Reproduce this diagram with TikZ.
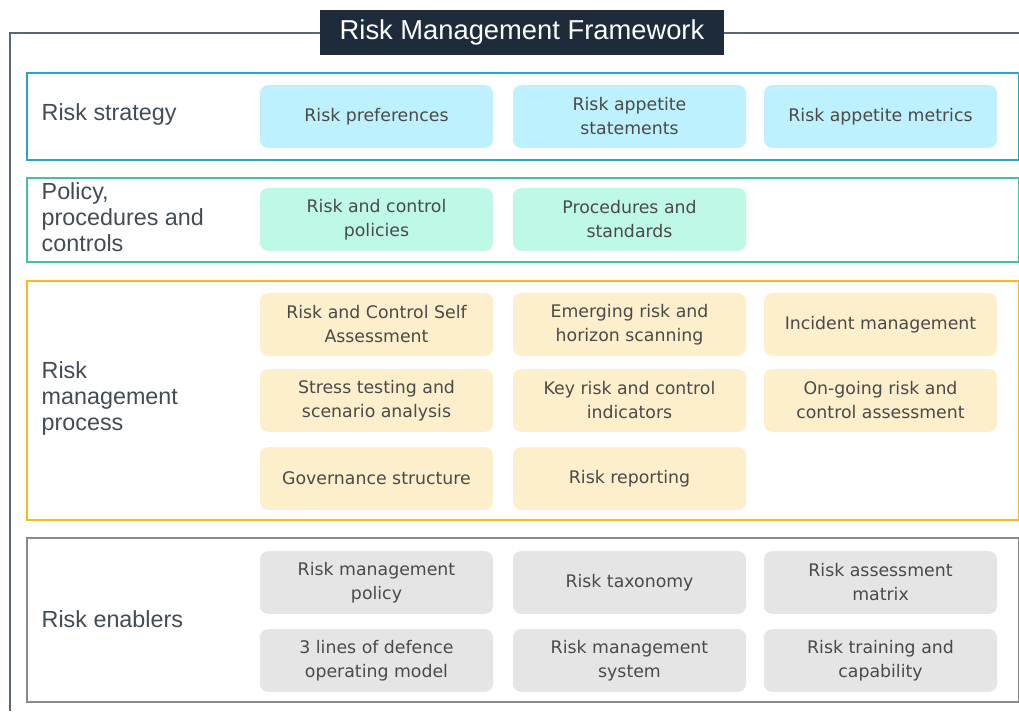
\documentclass[tikz,border=0pt]{standalone}
\usepackage{fontspec}
\setmainfont{Liberation Sans}
\newfontfamily\boxfont{DejaVu Sans}
\definecolor{navy}{HTML}{1E2B3A}
\definecolor{framegray}{HTML}{5C6670}
\definecolor{stratline}{HTML}{2FA4C0}
\definecolor{polline}{HTML}{3CC49C}
\definecolor{procline}{HTML}{F7B928}
\definecolor{enabline}{HTML}{8A8A8A}
\definecolor{stratfill}{HTML}{BDF1FD}
\definecolor{polfill}{HTML}{BEF8E6}
\definecolor{procfill}{HTML}{FDEFCB}
\definecolor{enabfill}{HTML}{E5E5E5}
\definecolor{txtgray}{HTML}{4A4A4A}
\definecolor{lblgray}{HTML}{434B53}
\begin{document}
\begin{tikzpicture}[x=0.75pt,y=-0.75pt,
    band/.style={draw, line width=1.5pt, minimum width=744pt, anchor=north west, inner sep=0pt},
    item/.style={rounded corners=6pt, minimum width=174.75pt, minimum height=47pt, align=center, text=txtgray, font=\boxfont\fontsize{13}{18}\selectfont},
    lbl/.style={anchor=west, align=left, text=lblgray, font=\fontsize{17.5}{19.5}\selectfont}]
  \useasboundingbox (0,0) rectangle (1019,711);
  % outer frame and title
  \draw[framegray, line width=1.5pt] (1019,33) -| (10,711);
  \node[fill=navy, text=white, minimum width=303pt, minimum height=33.75pt, font=\fontsize{20.5}{24}\selectfont] (title) at (522,32.5) {Risk Management Framework};
  % bands
  \node[band, draw=stratline, minimum height=65.25pt] (strat) at (26,72) {};
  \node[band, draw=polline, minimum height=63pt] (pol) at (26,177) {};
  \node[band, draw=procline, minimum height=179.25pt] (proc) at (26,280) {};
  \node[band, draw=enabline, minimum height=123pt] (enab) at (26,537) {};
  % band labels
  \node[lbl] (stratlbl) at (37,114) {Risk strategy};
  \node[lbl] (pollbl) at (37,217) {Policy,\\procedures and\\controls};
  \node[lbl] (proclbl) at (37,398) {Risk\\management\\process};
  \node[lbl] (enablbl) at (37,619) {Risk enablers};
  % risk strategy
  \node[item, fill=stratfill] (s1) at (376.5,116.5) {Risk preferences};
  \node[item, fill=stratfill] (s2) at (629.5,116.5) {Risk appetite\\statements};
  \node[item, fill=stratfill] (s3) at (880.5,116.5) {Risk appetite metrics};
  % policy
  \node[item, fill=polfill] (p1) at (376.5,219.5) {Risk and control\\policies};
  \node[item, fill=polfill] (p2) at (629.5,219.5) {Procedures and\\standards};
  % process
  \node[item, fill=procfill] (m1) at (376.5,324.5) {Risk and Control Self\\Assessment};
  \node[item, fill=procfill] (m2) at (629.5,324.5) {Emerging risk and\\horizon scanning};
  \node[item, fill=procfill] (m3) at (880.5,324.5) {Incident management};
  \node[item, fill=procfill] (m4) at (376.5,400.5) {Stress testing and\\scenario analysis};
  \node[item, fill=procfill] (m5) at (629.5,400.5) {Key risk and control\\indicators};
  \node[item, fill=procfill] (m6) at (880.5,400.5) {On-going risk and\\control assessment};
  \node[item, fill=procfill] (m7) at (376.5,478.5) {Governance structure};
  \node[item, fill=procfill] (m8) at (629.5,478.5) {Risk reporting};
  % enablers
  \node[item, fill=enabfill] (e1) at (376.5,582.5) {Risk management\\policy};
  \node[item, fill=enabfill] (e2) at (629.5,582.5) {Risk taxonomy};
  \node[item, fill=enabfill] (e3) at (880.5,582.5) {Risk assessment\\matrix};
  \node[item, fill=enabfill] (e4) at (376.5,660.5) {3 lines of defence\\operating model};
  \node[item, fill=enabfill] (e5) at (629.5,660.5) {Risk management\\system};
  \node[item, fill=enabfill] (e6) at (880.5,660.5) {Risk training and\\capability};
\end{tikzpicture}
\end{document}
